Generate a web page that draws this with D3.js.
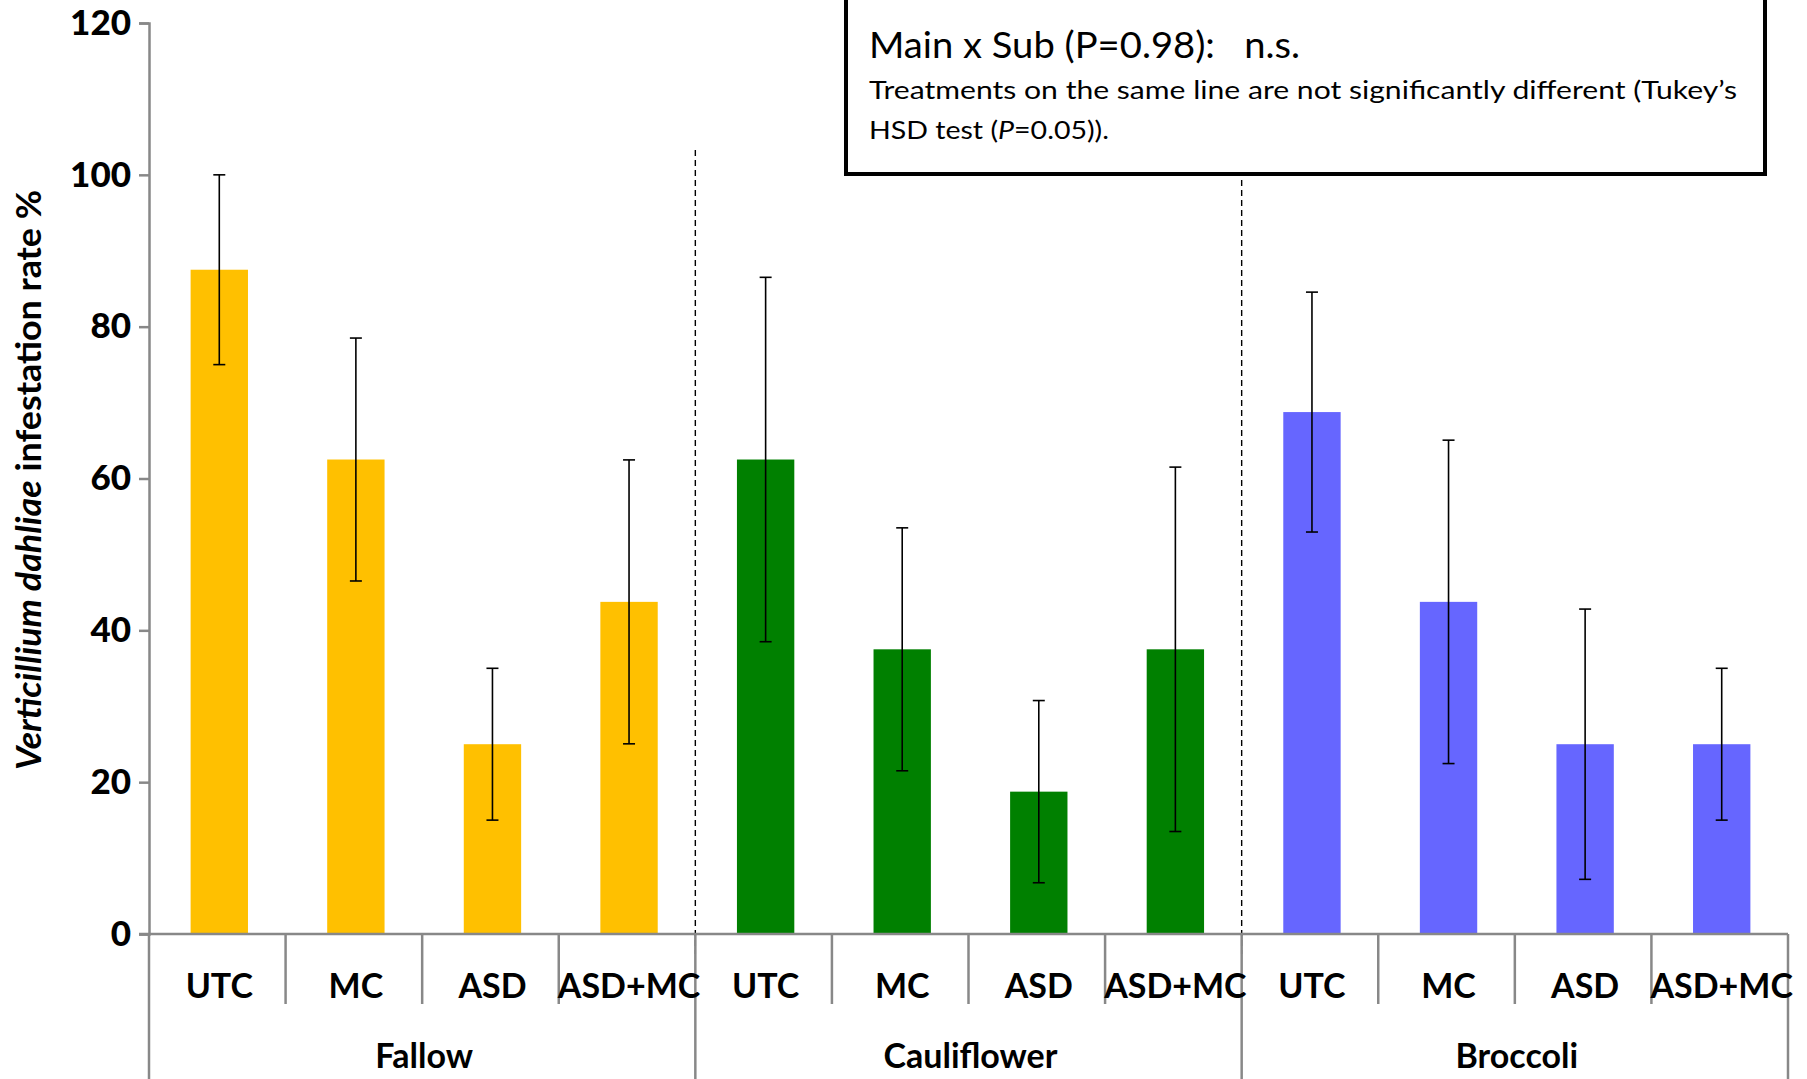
<!DOCTYPE html>
<html>
<head>
<meta charset="utf-8">
<script src="https://cdn.jsdelivr.net/npm/d3@7/dist/d3.min.js"></script>
<style>
  html, body { margin: 0; padding: 0; background: #fff; }
  svg { display: block; font-family: Lato, "Open Sans", sans-serif; }
  text { white-space: pre; }
</style>
</head>
<body>
<svg id="chart" width="1807" height="1079"></svg>
<script>
// Crop groups (main plots) and soil treatments (sub plots)
const groups = ["Fallow", "Cauliflower", "Broccoli"];
const treatments = ["UTC", "MC", "ASD", "ASD+MC"];
const groupColors = ["#FFC000", "#008000", "#6666FF"];

// Mean infestation rate (%) per group, in treatment order
const fallowMeans = [87.5, 62.5, 25, 43.75];
const cauliflowerMeans = [62.5, 37.5, 18.75, 37.5];
const broccoliMeans = [68.75, 43.75, 25, 25];

// Half-length of the error bars (%)
const fallowErrors = [12.5, 16, 10, 18.7];
const cauliflowerErrors = [24, 16, 12, 24];
const broccoliErrors = [15.8, 21.3, 17.8, 10];

const yTicks = [0, 20, 40, 60, 80, 100, 120];

const means = [fallowMeans, cauliflowerMeans, broccoliMeans];
const errors = [fallowErrors, cauliflowerErrors, broccoliErrors];

const rows = [];
groups.forEach((g, gi) => {
  treatments.forEach((t, ti) => {
    rows.push({ group: g, gi, treatment: t, value: means[gi][ti], err: errors[gi][ti] });
  });
});

const svg = d3.select("#chart");
const plotLeft = 149, plotRight = 1788, plotTop = 23, plotBottom = 934;
const axisGrey = "#888888";

const x0 = d3.scaleBand().domain(groups).range([plotLeft, plotRight]).padding(0);
const x1 = d3.scaleBand().domain(treatments).range([0, x0.bandwidth()]).padding(0);
const y = d3.scaleLinear().domain([0, 120]).range([plotBottom, plotTop]);

const barW = x1.bandwidth() * 0.42;
const cx = d => x0(d.group) + x1(d.treatment) + x1.bandwidth() / 2 + 2;

// Bars
svg.append("g").selectAll("rect").data(rows).join("rect")
  .attr("x", d => cx(d) - barW / 2)
  .attr("y", d => y(d.value))
  .attr("width", barW)
  .attr("height", d => y(0) - y(d.value))
  .attr("fill", d => groupColors[d.gi]);

// Error bars
const eb = svg.append("g").attr("stroke", "#000").attr("stroke-width", 1.6).attr("fill", "none");
rows.forEach(d => {
  const xc = cx(d), yHi = y(d.value + d.err), yLo = y(d.value - d.err);
  eb.append("line").attr("x1", xc).attr("x2", xc).attr("y1", yHi).attr("y2", yLo);
  eb.append("line").attr("x1", xc - 6).attr("x2", xc + 6).attr("y1", yHi).attr("y2", yHi);
  eb.append("line").attr("x1", xc - 6).attr("x2", xc + 6).attr("y1", yLo).attr("y2", yLo);
});

// Dashed separators between crop groups
groups.slice(1).forEach(g => {
  svg.append("line")
    .attr("x1", x0(g)).attr("x2", x0(g))
    .attr("y1", 150).attr("y2", plotBottom + 20)
    .attr("stroke", "#000").attr("stroke-width", 1.4)
    .attr("stroke-dasharray", "6,4");
});

// Y axis
const yAxis = d3.axisLeft(y).tickValues(yTicks).tickSize(10).tickSizeOuter(10).tickPadding(8);
const yg = svg.append("g").attr("transform", `translate(${plotLeft},0)`).call(yAxis);
yg.select(".domain").attr("stroke", axisGrey).attr("stroke-width", 2.5);
yg.selectAll(".tick line").attr("stroke", axisGrey).attr("stroke-width", 2.5);
yg.selectAll(".tick text")
  .attr("fill", "#000").attr("font-size", 35).attr("font-weight", 900)
  .attr("font-family", "Lato, sans-serif");

// X axis line
svg.append("line").attr("x1", plotLeft - 10).attr("x2", plotRight)
  .attr("y1", plotBottom).attr("y2", plotBottom)
  .attr("stroke", axisGrey).attr("stroke-width", 2.5);

// Category dividers below the axis
const grid = svg.append("g").attr("stroke", axisGrey).attr("stroke-width", 2.5);
groups.forEach(g => {
  treatments.slice(1).forEach(t => {
    const xx = x0(g) + x1(t);
    grid.append("line").attr("x1", xx).attr("x2", xx).attr("y1", plotBottom).attr("y2", 1004);
  });
});
groups.concat([null]).forEach(g => {
  const xx = g === null ? plotRight : x0(g);
  grid.append("line").attr("x1", xx).attr("x2", xx).attr("y1", plotBottom).attr("y2", 1079);
});

// Treatment labels
svg.append("g").selectAll("text").data(rows).join("text")
  .attr("x", d => cx(d))
  .attr("y", 998)
  .attr("text-anchor", "middle")
  .attr("font-size", 34).attr("font-weight", 700)
  .text(d => d.treatment);

// Group labels
svg.append("g").selectAll("text").data(groups).join("text")
  .attr("x", g => x0(g) + x0.bandwidth() / 2 + 2)
  .attr("y", 1068)
  .attr("text-anchor", "middle")
  .attr("font-size", 34).attr("font-weight", 700)
  .text(g => g);

// Y axis title
const yt = svg.append("text")
  .attr("transform", "translate(41,480) rotate(-90)")
  .attr("text-anchor", "middle")
  .attr("font-size", 34).attr("font-weight", 700)
  .attr("textLength", 580).attr("lengthAdjust", "spacingAndGlyphs");
yt.append("tspan").attr("font-style", "italic").text("Verticillium dahliae");
yt.append("tspan").text(" infestation rate %");

// Statistics note box
svg.append("rect")
  .attr("x", 846).attr("y", -10).attr("width", 919).attr("height", 184)
  .attr("fill", "#fff").attr("stroke", "#000").attr("stroke-width", 4);
svg.append("text").attr("x", 869).attr("y", 58)
  .attr("font-size", 37)
  .attr("textLength", 431).attr("lengthAdjust", "spacingAndGlyphs")
  .text("Main x Sub (P=0.98):   n.s.");
svg.append("text").attr("x", 869).attr("y", 99)
  .attr("font-size", 25)
  .attr("textLength", 868).attr("lengthAdjust", "spacingAndGlyphs")
  .text("Treatments on the same line are not significantly different (Tukey\u2019s");
const l3 = svg.append("text").attr("x", 869).attr("y", 139)
  .attr("font-size", 25)
  .attr("textLength", 240).attr("lengthAdjust", "spacingAndGlyphs");
l3.append("tspan").text("HSD test (");
l3.append("tspan").attr("font-style", "italic").text("P");
l3.append("tspan").text("=0.05)).");
</script>
</body>
</html>
